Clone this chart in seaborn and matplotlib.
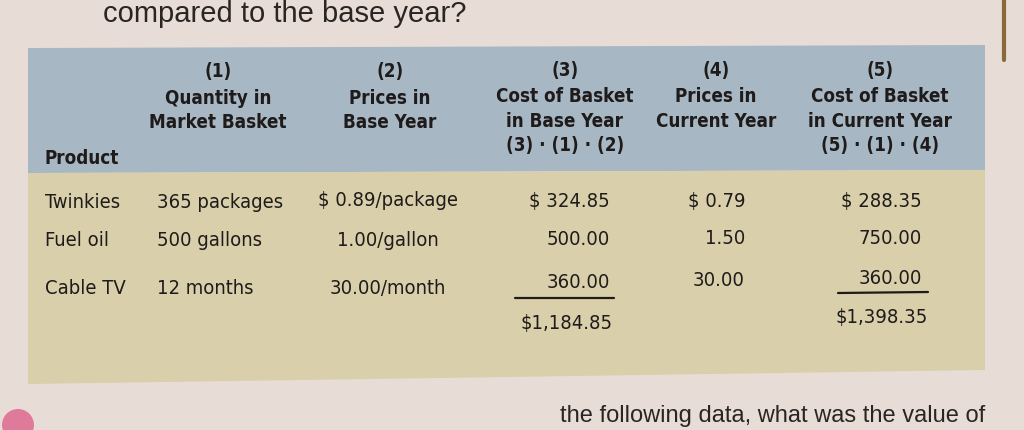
import matplotlib
matplotlib.use('Agg')
import matplotlib.pyplot as plt
from matplotlib import font_manager
import seaborn as sns

# Table content
products = ['Twinkies', 'Fuel oil', 'Cable TV']
quantity = ['365 packages', '500 gallons', '12 months']
base_prices = ['$ 0.89/package', '1.00/gallon', '30.00/month']
base_cost = ['$ 324.85', '500.00', '360.00']
current_prices = ['$ 0.79', '1.50', '30.00']
current_cost = ['$ 288.35', '750.00', '360.00']
base_total = '$1,184.85'
current_total = '$1,398.35'

col_numbers = ['(1)', '(2)', '(3)', '(4)', '(5)']
col_titles = [['Quantity in', 'Market Basket'],
              ['Prices in', 'Base Year'],
              ['Cost of Basket', 'in Base Year', '(3) · (1) · (2)'],
              ['Prices in', 'Current Year'],
              ['Cost of Basket', 'in Current Year', '(5) · (1) · (4)']]

sns.set_style('white')

# pick a narrow face if one is around (the book uses a condensed grotesque)
fonts = font_manager.fontManager.ttflist
names = {f.name for f in fonts}
stretch = 'normal'
fs_head, fs_body = 12.5, 12.5
if 'Liberation Sans Narrow' in names:
    plt.rcParams['font.family'] = ['Liberation Sans Narrow', 'DejaVu Sans']
    fs_head, fs_body = 14.5, 15.5
elif any(f.name == 'DejaVu Sans' and f.stretch == 'condensed' for f in fonts):
    plt.rcParams['font.family'] = ['DejaVu Sans']
    stretch = 'condensed'
    fs_head, fs_body = 13.5, 14.5
else:
    plt.rcParams['font.family'] = ['DejaVu Sans']

page = '#e8ddd6'
header_col = '#a7b7c3'
body_col = '#d9cfab'
ink = '#1e1b1a'

fig = plt.figure(figsize=(10.24, 4.30), dpi=100, facecolor=page)
ax = fig.add_axes([0, 0, 1, 1])
ax.set_xlim(0, 1024)
ax.set_ylim(430, 0)
ax.axis('off')
ax.set_facecolor(page)

# bands (photo is slightly tilted)
ax.fill([28, 985, 985, 28], [48, 45, 170, 173], color=header_col, lw=0)
ax.fill([28, 985, 985, 28], [173, 170, 370, 384], color=body_col, lw=0)

# book edge at the right
ax.plot([1004, 1004], [0, 60], color='#8a6a3a', lw=3)

# question text at the top / bottom of the page
ax.text(285, 14, 'compared to the base year?', fontsize=21, ha='center',
        va='center', color='#2a2522', family=['Liberation Sans', 'DejaVu Sans'])
ax.text(985, 416, 'the following data, what was the value of', fontsize=17,
        ha='right', va='center', color='#2a2522',
        family=['Liberation Sans', 'DejaVu Sans'])
ax.add_patch(plt.Circle((18, 425), 16, color='#e07a9a', lw=0))

head = dict(fontsize=fs_head, fontstretch=stretch, color=ink, va='center',
            fontweight='bold')
body = dict(fontsize=fs_body, fontstretch=stretch, color=ink, va='center')

# header
hdr_x = [218, 390, 565, 716, 880]
line_y = [72, 98, 123, 147]
for i, x in enumerate(hdr_x):
    lines = [col_numbers[i]] + col_titles[i]
    for j, txt in enumerate(lines):
        ax.text(x, line_y[j] - 1.5 * (i >= 2), txt, ha='center', **head)
ax.text(45, 158, 'Product', ha='left', **head)

# body rows
row_y = [202, 241, 289]
tilt = [0, -3, -10]
for r in range(len(products)):
    y = row_y[r]
    ax.text(45, y, products[r], ha='left', **body)
    ax.text(157, y, quantity[r], ha='left', **body)
    ax.text(388, y - 1, base_prices[r], ha='center', **body)
    ax.text(610, y + tilt[r] * 0.6, base_cost[r], ha='right', **body)
    ax.text(745, y + tilt[r] * 0.8, current_prices[r], ha='right', **body)
    ax.text(922, y + tilt[r], current_cost[r], ha='right', **body)

# totals
ax.plot([515, 614], [298, 298], color=ink, lw=1.6)
ax.plot([838, 928], [293, 292], color=ink, lw=1.6)
ax.text(612, 323, base_total, ha='right', **body)
ax.text(928, 317, current_total, ha='right', **body)

fig.savefig('out.png', dpi=100, facecolor=page)
